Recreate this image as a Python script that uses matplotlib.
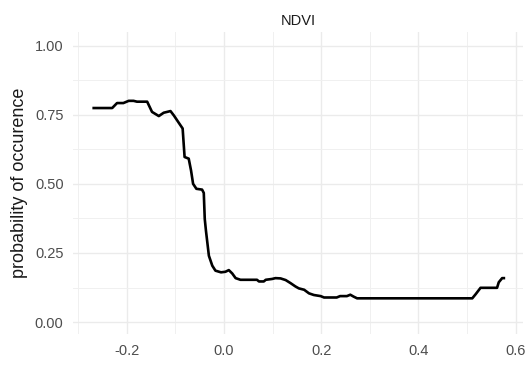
import matplotlib
matplotlib.use("Agg")
import matplotlib.pyplot as plt
from matplotlib.ticker import MultipleLocator

ndvi = [-0.268, -0.230, -0.220, -0.207, -0.196, -0.186, -0.179, -0.158, -0.148,
        -0.134, -0.124, -0.110, -0.103, -0.095, -0.085, -0.081, -0.0725, -0.0677,
        -0.0635, -0.0567, -0.045, -0.0415, -0.0395, -0.037, -0.031, -0.024, -0.0175,
        -0.006, 0.003, 0.010, 0.017, 0.024, 0.034, 0.068, 0.072, 0.082, 0.086,
        0.099, 0.106, 0.1165, 0.127, 0.137, 0.147, 0.154, 0.165, 0.175, 0.185,
        0.199, 0.206, 0.232, 0.239, 0.253, 0.260, 0.267, 0.274, 0.511, 0.518,
        0.528, 0.562, 0.5655, 0.5725, 0.576]
prob = [0.774, 0.774, 0.792, 0.792, 0.800, 0.800, 0.797, 0.797, 0.760,
        0.745, 0.757, 0.763, 0.747, 0.726, 0.700, 0.597, 0.591, 0.548,
        0.500, 0.482, 0.479, 0.467, 0.373, 0.330, 0.240, 0.204, 0.186,
        0.180, 0.182, 0.188, 0.176, 0.159, 0.153, 0.153, 0.147, 0.147, 0.153,
        0.156, 0.159, 0.158, 0.152, 0.141, 0.129, 0.122, 0.117, 0.104, 0.098,
        0.094, 0.089, 0.089, 0.094, 0.094, 0.099, 0.092, 0.086, 0.086, 0.101,
        0.124, 0.124, 0.144, 0.159, 0.159]

x_ticks = [-0.2, 0.0, 0.2, 0.4, 0.6]
x_tick_labels = ["-0.2", "0.0", "0.2", "0.4", "0.6"]
y_ticks = [0.00, 0.25, 0.50, 0.75, 1.00]
y_tick_labels = ["0.00", "0.25", "0.50", "0.75", "1.00"]

plt.rcParams['font.family'] = ['Liberation Sans', 'DejaVu Sans']

fig = plt.figure(figsize=(5.25, 3.66), dpi=100)
ax = fig.add_axes([73.3 / 525, 1 - 334 / 366, (523.3 - 73.3) / 525, (334 - 31.7) / 366])

ax.plot(ndvi, prob, color='black', linewidth=1.9, solid_joinstyle='round', zorder=3)

ax.set_xlim(-0.31, 0.616)
ax.set_ylim(-0.043, 1.05)
ax.set_xticks(x_ticks)
ax.set_xticklabels(x_tick_labels)
ax.set_yticks(y_ticks)
ax.set_yticklabels(y_tick_labels)
ax.xaxis.set_minor_locator(MultipleLocator(0.1))
ax.yaxis.set_minor_locator(MultipleLocator(0.125))

ax.grid(which='major', color='#EBEBEB', linewidth=1.0)
ax.grid(which='minor', color='#F0F0F0', linewidth=0.7)
ax.set_axisbelow(True)
for s in ax.spines.values():
    s.set_visible(False)
ax.tick_params(which='both', length=0)
ax.tick_params(axis='y', pad=7, labelsize=10.5, labelcolor='#4D4D4D')
ax.tick_params(axis='x', pad=7, labelsize=10.5, labelcolor='#4D4D4D')

ax.set_title("NDVI", fontsize=10.5, color='#1A1A1A', pad=5)
ax.set_ylabel("probability of occurence", fontsize=13, color='#1A1A1A', labelpad=5)

fig.savefig("out.png", dpi=100)
